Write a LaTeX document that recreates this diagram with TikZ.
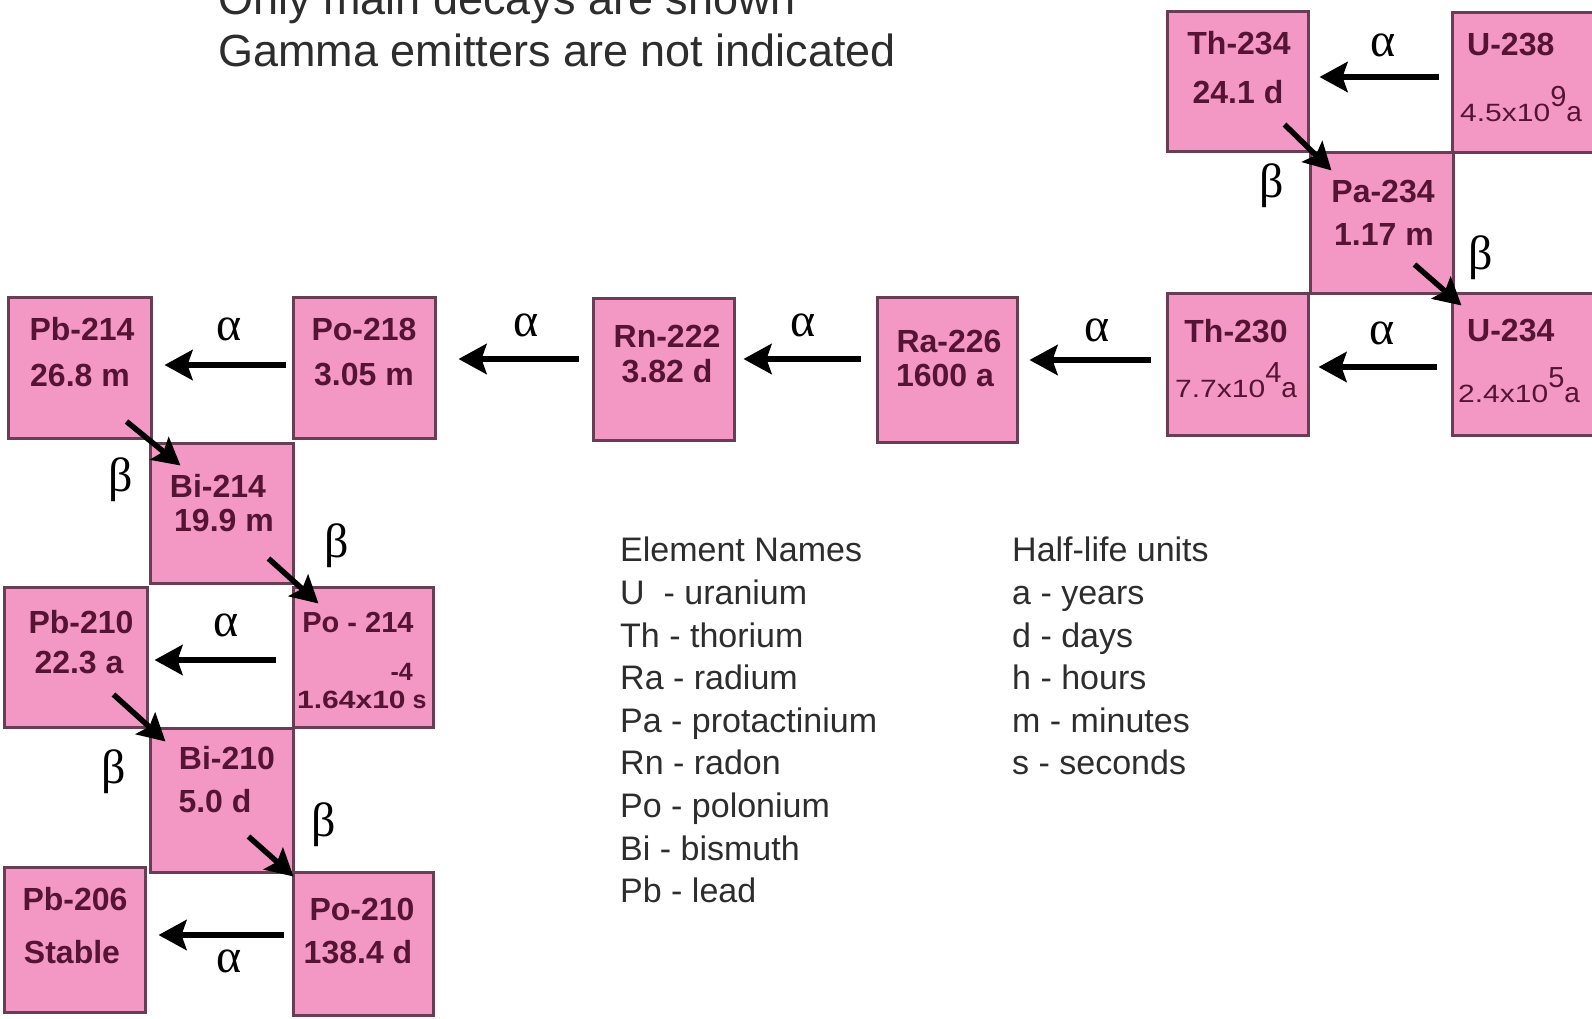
\documentclass[tikz,border=0pt]{standalone}
\usepackage{fontspec}
\setmainfont{Liberation Sans}
\newfontfamily\grkfont{Liberation Serif}
\usetikzlibrary{arrows.meta}
\definecolor{boxpink}{RGB}{243,152,196}
\definecolor{boxedge}{RGB}{105,62,84}
\definecolor{isotxt}{RGB}{86,20,52}
\definecolor{legtxt}{RGB}{45,45,45}
\newcommand\isofont{\fontsize{32}{38}\selectfont\bfseries}
\newcommand\expfont{\fontsize{25}{30}\selectfont}
\newcommand\halfexp[3]{\scalebox{1.2}[1]{#1}\raisebox{15pt}{\fontsize{29}{30}\selectfont #2}{\fontsize{28}{30}\selectfont #3}}
\begin{document}
\begin{tikzpicture}[x=1pt,y=-1pt,
  isobox/.style={draw=boxedge,line width=3pt,fill=boxpink,inner sep=0pt,rectangle},
  isotext/.style={text=isotxt,font=\isofont,inner sep=0pt},
  exptext/.style={text=isotxt,font=\expfont,inner sep=0pt,anchor=base west},
  alphaarrow/.style={line width=6pt,-{Stealth[length=28pt,width=30pt,inset=5pt]}},
  betaarrow/.style={line width=5.5pt,-{Stealth[length=27pt,width=29pt,inset=5pt]}},
  greek/.style={font=\grkfont\fontsize{48}{50}\selectfont,inner sep=0pt},
  legend/.style={font=\fontsize{34}{40}\selectfont,text=legtxt,anchor=base west,inner sep=0pt},
  toptext/.style={font=\fontsize{45}{52}\selectfont,text=legtxt,anchor=base west,inner sep=0pt}]
\useasboundingbox (0,0) rectangle (1592,1019);
\fill[white] (0,0) rectangle (1592,1019);
\clip (0,0) rectangle (1592,1019);

% top notes
\node[toptext] (note1) at (218,15) {Only main decays are shown};
\node[toptext] (note2) at (218,67) {Gamma emitters are not indicated};

% boxes
\node[isobox,minimum width=141pt,minimum height=140pt] (th234) at (1237.5,82) {};
\node[isobox,minimum width=150pt,minimum height=140pt] (u238) at (1527,83) {};
\node[isobox,minimum width=143pt,minimum height=140pt] (pa234) at (1381.5,223) {};
\node[isobox,minimum width=141pt,minimum height=142pt] (th230) at (1237.5,364) {};
\node[isobox,minimum width=150pt,minimum height=142pt] (u234) at (1527,364) {};
\node[isobox,minimum width=140pt,minimum height=145pt] (ra226) at (947,369.5) {};
\node[isobox,minimum width=141pt,minimum height=142pt] (rn222) at (663.5,369) {};
\node[isobox,minimum width=142pt,minimum height=141pt] (po218) at (364,367.5) {};
\node[isobox,minimum width=143pt,minimum height=141pt] (pb214) at (79.5,367.5) {};
\node[isobox,minimum width=143pt,minimum height=140pt] (bi214) at (221.5,513) {};
\node[isobox,minimum width=140pt,minimum height=140pt] (po214) at (363,657) {};
\node[isobox,minimum width=143pt,minimum height=140pt] (pb210) at (75.5,657) {};
\node[isobox,minimum width=143pt,minimum height=144pt] (bi210) at (221.5,800) {};
\node[isobox,minimum width=141pt,minimum height=145pt] (pb206) at (74.5,939.5) {};
\node[isobox,minimum width=140pt,minimum height=143pt] (po210) at (363,943.5) {};

% box texts
\node[isotext] (th234a) at (1239,43) {Th-234};
\node[isotext] (th234b) at (1238,92) {24.1 d};
\node[isotext,anchor=west] (u238a) at (1467,45) {U-238};
\node[exptext] (u238b) at (1460,122) {\halfexp{4.5x10}{9}{a}};
\node[isotext] (pa234a) at (1383,192) {Pa-234};
\node[isotext] (pa234b) at (1384,234) {1.17 m};
\node[isotext] (th230a) at (1236,331) {Th-230};
\node[exptext] (th230b) at (1175,397) {\halfexp{7.7x10}{4}{a}};
\node[isotext,anchor=west] (u234a) at (1467,331) {U-234};
\node[exptext] (u234b) at (1458,402) {\halfexp{2.4x10}{5}{a}};
\node[isotext] (ra226a) at (949,341) {Ra-226};
\node[isotext] (ra226b) at (945,375) {1600 a};
\node[isotext] (rn222a) at (667,336) {Rn-222};
\node[isotext] (rn222b) at (667,371) {3.82 d};
\node[isotext] (po218a) at (364,329) {Po-218};
\node[isotext] (po218b) at (364,375) {3.05 m};
\node[isotext] (pb214a) at (82,329) {Pb-214};
\node[isotext] (pb214b) at (80,375) {26.8 m};
\node[isotext] (bi214a) at (218,486) {Bi-214};
\node[isotext] (bi214b) at (224,520) {19.9 m};
\node[isotext,font=\fontsize{29}{34}\selectfont\bfseries] (po214a) at (358,623) {Po - 214};
\node[exptext,font=\expfont\bfseries] (po214b) at (297,708) {\scalebox{1.2}[1]{1.64x10}\makebox[0pt][l]{\hspace{-15pt}\raisebox{28pt}{-4}}\hspace{7pt}s};
\node[isotext] (pb210a) at (81,622) {Pb-210};
\node[isotext] (pb210b) at (79,663) {22.3 a};
\node[isotext] (bi210a) at (227,758) {Bi-210};
\node[isotext] (bi210b) at (215,801) {5.0 d};
\node[isotext] (pb206a) at (75,899) {Pb-206};
\node[isotext] (pb206b) at (72,952) {Stable};
\node[isotext] (po210a) at (362,909) {Po-210};
\node[isotext] (po210b) at (358,952) {138.4 d};

% alpha decays
\draw[alphaarrow] ([xshift=-12pt,yshift=6pt]u238.west) -- ([xshift=10pt,yshift=5pt]th234.east);
\draw[alphaarrow] ([xshift=-14pt,yshift=-3pt]u234.west) -- ([xshift=9pt,yshift=-3pt]th230.east);
\draw[alphaarrow] ([xshift=-15pt,yshift=4pt]th230.west) -- ([xshift=11pt,yshift=9.5pt]ra226.east);
\draw[alphaarrow] ([xshift=-15pt,yshift=10.5pt]ra226.west) -- ([xshift=8pt,yshift=10pt]rn222.east);
\draw[alphaarrow] ([xshift=-13pt,yshift=10pt]rn222.west) -- ([xshift=22pt,yshift=8.5pt]po218.east);
\draw[alphaarrow] ([xshift=-6pt,yshift=2.5pt]po218.west) -- ([xshift=12pt,yshift=2.5pt]pb214.east);
\draw[alphaarrow] ([xshift=-16pt,yshift=-3pt]po214.west) -- ([xshift=6pt,yshift=-3pt]pb210.east);
\draw[alphaarrow] ([xshift=-8pt,yshift=8.5pt]po210.west) -- ([xshift=12pt,yshift=4.5pt]pb206.east);

% beta decays
\draw[betaarrow] ([xshift=-25pt,yshift=29pt]th234.south east) -- ([xshift=23pt,yshift=-19pt]pa234.north west);
\draw[betaarrow] ([xshift=-40pt,yshift=30pt]pa234.south east) -- ([xshift=11pt,yshift=-14pt]u234.north west);
\draw[betaarrow] ([xshift=-26pt,yshift=18pt]pb214.south east) -- ([xshift=32pt,yshift=-24pt]bi214.north west);
\draw[betaarrow] ([xshift=-26pt,yshift=26pt]bi214.south east) -- ([xshift=27pt,yshift=-18pt]po214.north west);
\draw[betaarrow] ([xshift=-35pt,yshift=34pt]pb210.south east) -- ([xshift=17pt,yshift=-15pt]bi210.north west);
\draw[betaarrow] ([xshift=-46pt,yshift=37pt]bi210.south east) -- ([xshift=2pt,yshift=-6pt]po210.north west);

% greek labels
\node[greek] (al1) at (1383,45) {α};
\node[greek] (al2) at (1382,333) {α};
\node[greek] (al3) at (1097,330) {α};
\node[greek] (al4) at (803,325) {α};
\node[greek] (al5) at (526,325) {α};
\node[greek] (al6) at (229,329) {α};
\node[greek] (al7) at (226,625) {α};
\node[greek] (al8) at (229,961) {α};
\node[greek] (be1) at (1272,186) {β};
\node[greek] (be2) at (1481,258) {β};
\node[greek] (be3) at (121,480) {β};
\node[greek] (be4) at (337,546) {β};
\node[greek] (be5) at (114,772) {β};
\node[greek] (be6) at (324,825) {β};

% legends
\node[legend] (el0) at (620,561) {Element Names};
\node[legend] (el1) at (620,604) {U~~- uranium};
\node[legend] (el2) at (620,647) {Th - thorium};
\node[legend] (el3) at (620,689) {Ra - radium};
\node[legend] (el4) at (620,732) {Pa - protactinium};
\node[legend] (el5) at (620,774) {Rn - radon};
\node[legend] (el6) at (620,817) {Po - polonium};
\node[legend] (el7) at (620,860) {Bi - bismuth};
\node[legend] (el8) at (620,902) {Pb - lead};
\node[legend] (hl0) at (1012,561) {Half-life units};
\node[legend] (hl1) at (1012,604) {a - years};
\node[legend] (hl2) at (1012,647) {d - days};
\node[legend] (hl3) at (1012,689) {h - hours};
\node[legend] (hl4) at (1012,732) {m - minutes};
\node[legend] (hl5) at (1012,774) {s - seconds};
\end{tikzpicture}
\end{document}
